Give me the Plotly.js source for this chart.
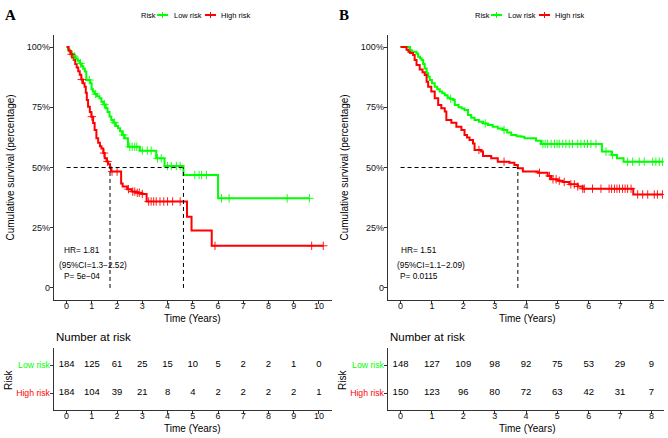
<!DOCTYPE html>
<html><head><meta charset="utf-8">
<script src="https://cdn.plot.ly/plotly-3.0.1.min.js"></script>
<style>html,body{margin:0;padding:0;background:#fff}#chart{width:668px;height:438px}</style>
</head><body><div id="chart"></div>
<script>
// ---------- Panel A data ----------
const lowA_t = [0, 0.05, 0.12, 0.2, 0.28, 0.36, 0.44, 0.52, 0.6, 0.66, 0.72, 0.78, 0.94, 0.99, 1.04, 1.1, 1.2, 1.3, 1.38, 1.46, 1.55, 1.62, 1.7, 1.77, 1.85, 1.95, 2.04, 2.12, 2.2, 2.3, 2.43, 2.9, 3.55, 3.88, 4.63, 6.0, 9.62];
const lowA_s = [1.0, 0.99, 0.98, 0.97, 0.962, 0.952, 0.943, 0.932, 0.92, 0.91, 0.898, 0.863, 0.85, 0.825, 0.815, 0.805, 0.796, 0.787, 0.773, 0.762, 0.746, 0.73, 0.712, 0.697, 0.686, 0.672, 0.663, 0.65, 0.635, 0.621, 0.586, 0.570, 0.538, 0.506, 0.469, 0.372, 0.372];
const highA_t = [0, 0.08, 0.15, 0.22, 0.28, 0.34, 0.4, 0.46, 0.52, 0.58, 0.65, 0.71, 0.76, 0.8, 0.85, 0.92, 0.98, 1.05, 1.11, 1.18, 1.25, 1.32, 1.38, 1.45, 1.51, 1.58, 1.65, 1.72, 1.76, 2.16, 2.22, 2.4, 2.57, 2.75, 2.96, 3.17, 4.77, 4.95, 5.75, 10.17];
const highA_s = [1.0, 0.985, 0.97, 0.958, 0.946, 0.93, 0.915, 0.9, 0.885, 0.865, 0.85, 0.835, 0.81, 0.78, 0.752, 0.73, 0.711, 0.685, 0.656, 0.621, 0.603, 0.588, 0.579, 0.56, 0.538, 0.525, 0.513, 0.5, 0.483, 0.434, 0.421, 0.41, 0.40, 0.395, 0.39, 0.359, 0.296, 0.238, 0.175, 0.175];
const lowA_cens = [0.3, 0.55, 0.9, 1.15, 1.5, 1.9, 2.25, 2.5, 2.6, 2.7, 2.78, 3.0, 3.2, 3.35, 3.6, 3.75, 4.0, 4.15, 4.35, 4.5, 5.08, 5.25, 5.35, 5.54, 6.14, 6.44, 8.74, 9.62];
const highA_cens = [0.2, 0.6, 1.0, 1.48, 1.62, 1.8, 2.0, 2.45, 2.62, 2.7, 2.8, 2.88, 3.0, 3.25, 3.35, 3.45, 3.55, 3.7, 3.85, 4.0, 4.2, 4.5, 5.88, 9.71, 10.17];
const timesA = [0, 1, 2, 3, 4, 5, 6, 7, 8, 9, 10];
const riskLowA = [184, 125, 61, 25, 15, 10, 5, 2, 2, 1, 0];
const riskHighA = [184, 104, 39, 21, 8, 4, 2, 2, 2, 2, 1];
const statsA = ["HR= 1.81", "(95%CI=1.3\u22122.52)", "P= 5e\u221204"];

// ---------- Panel B data ----------
const lowB_t = [0, 0.30, 0.36, 0.51, 0.56, 0.62, 0.67, 0.72, 0.77, 0.83, 0.88, 0.93, 1.0, 1.09, 1.17, 1.25, 1.33, 1.41, 1.5, 1.58, 1.67, 1.73, 1.85, 1.95, 2.04, 2.15, 2.25, 2.36, 2.5, 2.63, 2.78, 2.94, 3.1, 3.26, 3.4, 3.53, 3.7, 3.85, 3.95, 4.32, 4.48, 6.42, 6.73, 6.9, 7.11, 8.35];
const lowB_s = [1.0, 0.987, 0.98, 0.973, 0.96, 0.953, 0.946, 0.93, 0.911, 0.891, 0.877, 0.863, 0.85, 0.835, 0.825, 0.815, 0.808, 0.80, 0.79, 0.785, 0.78, 0.759, 0.75, 0.745, 0.739, 0.718, 0.707, 0.697, 0.69, 0.683, 0.676, 0.669, 0.662, 0.656, 0.645, 0.635, 0.63, 0.628, 0.621, 0.611, 0.598, 0.566, 0.552, 0.538, 0.524, 0.524];
const highB_t = [0, 0.19, 0.25, 0.30, 0.40, 0.45, 0.51, 0.61, 0.7, 0.77, 0.83, 0.88, 0.98, 1.09, 1.2, 1.3, 1.41, 1.46, 1.62, 1.78, 1.94, 2.04, 2.12, 2.2, 2.31, 2.36, 2.57, 2.63, 2.89, 3.1, 3.47, 3.63, 3.74, 3.9, 4.38, 4.69, 4.8, 5.01, 5.17, 5.38, 5.65, 5.81, 7.42, 8.35];
const highB_s = [1.0, 0.989, 0.98, 0.975, 0.967, 0.946, 0.925, 0.907, 0.895, 0.884, 0.856, 0.835, 0.815, 0.787, 0.759, 0.746, 0.732, 0.697, 0.686, 0.669, 0.656, 0.635, 0.625, 0.614, 0.60, 0.573, 0.566, 0.548, 0.538, 0.524, 0.52, 0.51, 0.497, 0.483, 0.478, 0.465, 0.451, 0.445, 0.44, 0.43, 0.421, 0.412, 0.388, 0.388];
const lowB_cens = [1.6, 2.7, 3.3, 4.54, 4.61, 4.69, 4.8, 4.91, 4.99, 5.06, 5.17, 5.27, 5.38, 5.48, 5.65, 5.75, 5.86, 5.96, 6.07, 6.23, 6.55, 6.76, 7.24, 7.4, 7.61, 7.77, 8.04, 8.14, 8.25, 8.35];
const highB_cens = [2.5, 3.3, 4.43, 4.75, 4.86, 4.96, 5.06, 5.22, 5.43, 5.54, 5.65, 5.81, 5.86, 6.12, 6.39, 6.65, 6.73, 6.82, 6.9, 6.98, 7.08, 7.16, 7.24, 7.35, 7.56, 7.72, 7.88, 8.09, 8.19, 8.35];
const timesB = [0, 1, 2, 3, 4, 5, 6, 7, 8];
const riskLowB = [148, 127, 109, 98, 92, 75, 53, 29, 9];
const riskHighB = [150, 123, 96, 80, 72, 63, 42, 31, 7];
const statsB = ["HR= 1.51", "(95%CI=1.1\u22122.09)", "P= 0.0115"];

// ---------- shared labels ----------
const survTickVals = [0, 0.25, 0.5, 0.75, 1];
const survTickText = ["0", "25%", "50%", "75%", "100%"];
const groupLabels = ["Low risk", "High risk"];
const GREEN = "#00FF00", RED = "#FF0000";

// ---------- helpers ----------
const W = 668, H = 438;
const px = v => v / W, py = v => 1 - v / H;
function survAt(ts, ss, t) { let v = ss[0]; for (let i = 0; i < ts.length; i++) if (ts[i] <= t) v = ss[i]; return v; }
function median(ts, ss) { for (let i = 0; i < ts.length; i++) if (ss[i] <= 0.5) return ts[i]; return null; }
const FONT = "Liberation Sans, Arial, sans-serif";

const traces = [];
function addPanel(xa, ya, xt, yt, lt, ls, ht, hs, lc, hc, times, rl, rh) {
  traces.push({x: lt, y: ls, mode: "lines", line: {shape: "hv", color: GREEN, width: 2}, xaxis: xa, yaxis: ya, hoverinfo: "skip"});
  traces.push({x: ht, y: hs, mode: "lines", line: {shape: "hv", color: RED, width: 2}, xaxis: xa, yaxis: ya, hoverinfo: "skip"});
  traces.push({x: lc, y: lc.map(t => survAt(lt, ls, t)), mode: "markers", marker: {symbol: "cross-thin", size: 6, color: GREEN, line: {width: 0.9, color: GREEN}}, xaxis: xa, yaxis: ya, hoverinfo: "skip"});
  traces.push({x: hc, y: hc.map(t => survAt(ht, hs, t)), mode: "markers", marker: {symbol: "cross-thin", size: 6, color: RED, line: {width: 0.9, color: RED}}, xaxis: xa, yaxis: ya, hoverinfo: "skip"});
  const meds = [median(lt, ls), median(ht, hs)].filter(m => m !== null);
  const mx = Math.max(...meds);
  traces.push({x: [0, mx], y: [0.5, 0.5], mode: "lines", line: {color: "#000", width: 1, dash: "4px,3px"}, xaxis: xa, yaxis: ya, hoverinfo: "skip"});
  meds.forEach(m => traces.push({x: [m, m], y: [0, 0.5], mode: "lines", line: {color: "#000", width: 1, dash: "4px,3px"}, xaxis: xa, yaxis: ya, hoverinfo: "skip"}));
  traces.push({x: times.concat(times), y: times.map(() => 2).concat(times.map(() => 1)), text: rl.concat(rh).map(String), mode: "text", textfont: {size: 9.5, color: "#000", family: FONT}, xaxis: xt, yaxis: yt, hoverinfo: "skip"});
}
addPanel("x", "y", "x3", "y3", lowA_t, lowA_s, highA_t, highA_s, lowA_cens, highA_cens, timesA, riskLowA, riskHighA);
addPanel("x2", "y2", "x4", "y4", lowB_t, lowB_s, highB_t, highB_s, lowB_cens, highB_cens, timesB, riskLowB, riskHighB);

const axBase = {showline: true, linecolor: "#333", linewidth: 1.3, ticks: "outside", ticklen: 3, tickwidth: 1, tickcolor: "#333",
  showgrid: false, zeroline: false, tickfont: {size: 9, color: "#111", family: FONT}, fixedrange: true};
const xBase = Object.assign({}, axBase, {ticklabelstandoff: -6});
const yBase = Object.assign({}, axBase, {ticklabelstandoff: -2});
const domA = [px(54), px(331.6)], domB = [px(388), px(664)];
const domMain = [py(300), py(35)], domTab = [py(410), py(348)];
const rowTicks = {tickmode: "array", tickvals: [2, 1], ticktext: ['<span style="color:' + GREEN + '">' + groupLabels[0] + '</span>', '<span style="color:' + RED + '">' + groupLabels[1] + '</span>'], range: [0.393, 2.607]};

const layout = {
  width: W, height: H, margin: {l: 0, r: 0, t: 0, b: 0}, showlegend: false,
  paper_bgcolor: "#fff", plot_bgcolor: "#fff", font: {family: FONT},
  xaxis: Object.assign({}, xBase, {domain: domA, range: [-0.5, 10.5], tickmode: "array", tickvals: timesA, anchor: "y"}),
  yaxis: Object.assign({}, yBase, {domain: domMain, range: [-0.05, 1.05], tickmode: "array", tickvals: survTickVals, ticktext: survTickText, anchor: "x"}),
  xaxis2: Object.assign({}, xBase, {domain: domB, range: [-0.4, 8.4], tickmode: "array", tickvals: timesB, anchor: "y2"}),
  yaxis2: Object.assign({}, yBase, {domain: domMain, range: [-0.05, 1.05], tickmode: "array", tickvals: survTickVals, ticktext: survTickText, anchor: "x2"}),
  xaxis3: Object.assign({}, xBase, {domain: domA, range: [-0.5, 10.5], tickmode: "array", tickvals: timesA, anchor: "y3"}),
  yaxis3: Object.assign({}, yBase, rowTicks, {domain: domTab, anchor: "x3", tickfont: {size: 8.7, family: FONT}}),
  xaxis4: Object.assign({}, xBase, {domain: domB, range: [-0.4, 8.4], tickmode: "array", tickvals: timesB, anchor: "y4"}),
  yaxis4: Object.assign({}, yBase, rowTicks, {domain: domTab, anchor: "x4", tickfont: {size: 8.7, family: FONT}}),
  annotations: [], shapes: []
};

function ann(text, x, y, opts) {
  layout.annotations.push(Object.assign({text: text, x: px(x), y: py(y), xref: "paper", yref: "paper", showarrow: false,
    xanchor: "center", yanchor: "middle", font: {size: 10, color: "#000", family: FONT}}, opts || {}));
}
[0, 334].forEach((o, i) => {
  ann(["A", "B"][i], 10 + o, 15, {font: {size: 15, color: "#000", family: "Liberation Serif, Times New Roman, serif"}, text: "<b>" + ["A", "B"][i] + "</b>"});
  // legend
  ann("Risk", 139 + o, 15, {xanchor: "left", font: {size: 7.5, color: "#000", family: FONT}});
  ann(groupLabels[0], 172 + o, 15, {xanchor: "left", font: {size: 7.5, color: "#000", family: FONT}});
  ann(groupLabels[1], 219 + o, 15, {xanchor: "left", font: {size: 7.5, color: "#000", family: FONT}});
  [[157, 168, GREEN], [205, 216, RED]].forEach(s => {
    layout.shapes.push({type: "line", xref: "paper", yref: "paper", x0: px(s[0] + o), x1: px(s[1] + o), y0: py(15), y1: py(15), line: {color: s[2], width: 2}});
    layout.shapes.push({type: "line", xref: "paper", yref: "paper", x0: px((s[0] + s[1]) / 2 + o), x1: px((s[0] + s[1]) / 2 + o), y0: py(12), y1: py(18), line: {color: s[2], width: 1}});
  });
  ann("Cumulative survival (percentage)", 9.5 + o, 168, {textangle: -90});
  ann("Time (Years)", 193 + o, 318.5);
  ann("Number at risk", 54 + o, 337, {xanchor: "left", font: {size: 11.5, color: "#000", family: FONT}});
  ann("Risk", 8 + o, 380, {textangle: -90});
  ann("Time (Years)", 193 + o, 428);
  const st = i === 0 ? statsA : statsB;
  const sx = i === 0 ? [62, 57.3, 62] : [65, 60.7, 64];
  [250, 265, 276].forEach((yy, k) => ann(st[k], sx[k] + o, yy, {xanchor: "left", font: {size: 8.3, color: "#000", family: FONT}}));
});

Plotly.newPlot("chart", traces, layout, {staticPlot: true, displayModeBar: false});
</script></body></html>
